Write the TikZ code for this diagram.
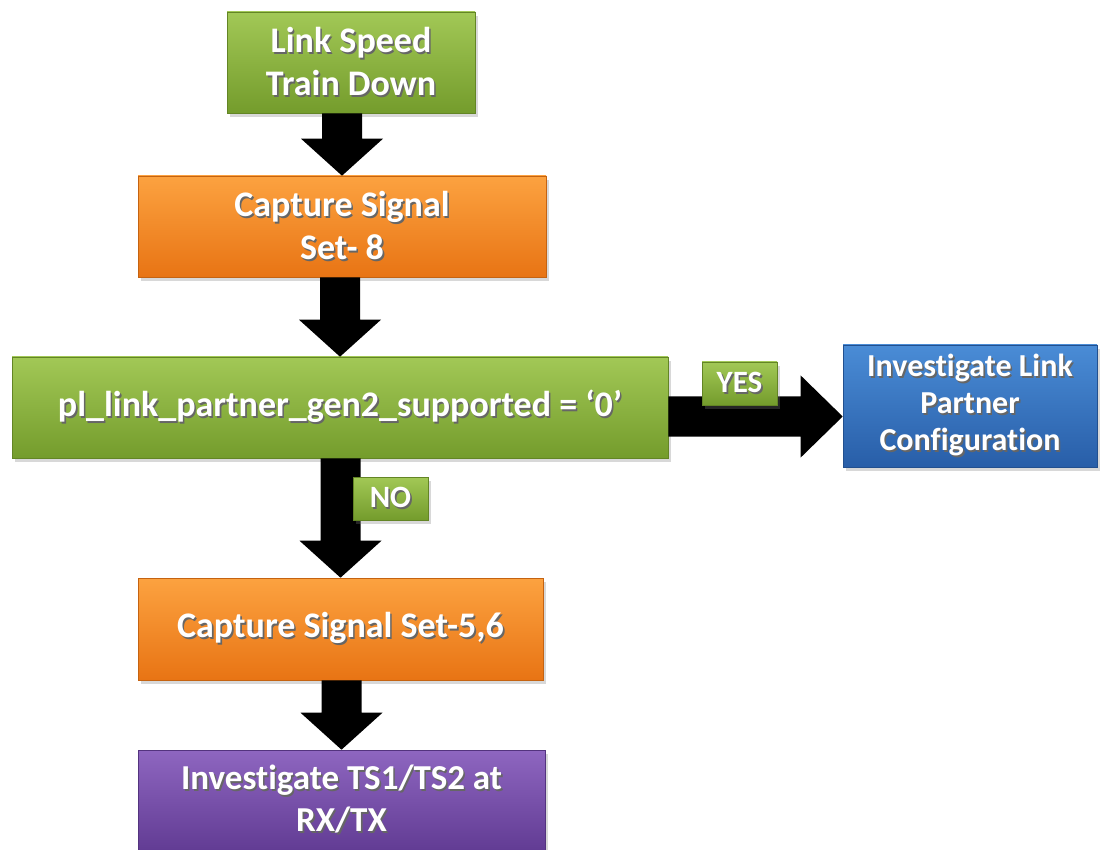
\documentclass[tikz,border=0pt]{standalone}
\usepackage{fontspec}
\setmainfont{Carlito}[Ligatures={TeX,NoCommon}]
\usetikzlibrary{shadows,calc}

% box fills: lighter top, darker bottom
\definecolor{grnT}{RGB}{162,200,86}
\definecolor{grnB}{RGB}{116,156,44}
\definecolor{orgT}{RGB}{252,162,64}
\definecolor{orgB}{RGB}{232,116,20}
\definecolor{bluT}{RGB}{74,140,214}
\definecolor{bluB}{RGB}{40,94,168}
\definecolor{purT}{RGB}{142,102,192}
\definecolor{purB}{RGB}{98,60,148}

% white lettering with a small dark offset copy underneath
\newcommand\shadowtxt[1]{\rlap{\hspace{1.6pt}\raisebox{-1.6pt}{\textcolor{black!60}{#1}}}#1}

\tikzset{
  box/.style={rectangle, inner sep=0pt, align=center, text=white, line width=0.6pt,
    font=\bfseries\fontsize{36}{43}\selectfont,
    drop shadow={opacity=0.3, shadow xshift=3pt, shadow yshift=-4pt}},
  greenbox/.style={box, top color=grnT, bottom color=grnB, draw=grnB!85!black},
  orangebox/.style={box, top color=orgT, bottom color=orgB, draw=orgB!85!black},
  bluebox/.style={box, top color=bluT, bottom color=bluB, draw=bluB!85!black},
  purplebox/.style={box, top color=purT, bottom color=purB, draw=purB!85!black},
  tag/.style={greenbox, minimum width=75pt, minimum height=43pt,
    font=\bfseries\fontsize{31}{36}\selectfont},
  blockarrow/.style={fill=black}
}

% thick downward block arrow from the bottom of #1 to the top of #2
\newcommand\vblock[2]{%
  \fill[blockarrow] let \p1=(#1.south), \p2=(#2.north) in
    (\x2-20pt,\y1) -- (\x2-20pt,\y2+37pt) -- (\x2-41pt,\y2+37pt) -- (\x2,\y2)
    -- (\x2+41pt,\y2+37pt) -- (\x2+20pt,\y2+37pt) -- (\x2+20pt,\y1) -- cycle;}

% thick rightward block arrow from the right side of #1 to the left side of #2, shifted by #3
\newcommand\hblock[3]{%
  \fill[blockarrow] let \p1=($(#1.east)+(0,#3)$), \p2=(#2.west) in
    (\x1,\y1+20pt) -- (\x2-42pt,\y1+20pt) -- (\x2-42pt,\y1+41pt) -- (\x2,\y1)
    -- (\x2-42pt,\y1-41pt) -- (\x2-42pt,\y1-20pt) -- (\x1,\y1-20pt) -- cycle;}

\begin{document}
\begin{tikzpicture}[x=1pt,y=-1pt]
\useasboundingbox[fill=white] (0,0) rectangle (1109,850);

\node[greenbox, minimum width=248pt, minimum height=101pt] (train) at (351,62.5)
  {\shadowtxt{Link Speed}\\\shadowtxt{Train Down}};
\node[orangebox, minimum width=408pt, minimum height=101pt] (cap8) at (342,226.5)
  {\shadowtxt{Capture Signal}\\\shadowtxt{Set- 8}};
\node[greenbox, minimum width=656pt, minimum height=101pt] (cond) at (340,407.5)
  {\shadowtxt{pl\_link\_partner\_gen2\_supported = ‘0’}};
\node[bluebox, minimum width=254pt, minimum height=122pt,
      font=\bfseries\fontsize{32}{37}\selectfont] (partner) at (970,406)
  {\shadowtxt{Investigate Link}\\\shadowtxt{Partner}\\\shadowtxt{Configuration}};
\node[orangebox, minimum width=405pt, minimum height=102pt] (cap56) at (340.5,629)
  {\shadowtxt{Capture Signal Set-5,6}};
\node[purplebox, minimum width=407pt, minimum height=100pt,
      font=\bfseries\fontsize{35}{42}\selectfont] (ts) at (341.5,800)
  {\shadowtxt{Investigate TS1/TS2 at}\\\shadowtxt{RX/TX}};

\vblock{train}{cap8}
\vblock{cap8}{cond}
\vblock{cond}{cap56}
\vblock{cap56}{ts}
\hblock{cond}{partner}{9}

\node[tag] (yes) at (739.5,383.5) {\shadowtxt{YES}};
\node[tag] (no) at (390.5,498.5) {\shadowtxt{NO}};
\end{tikzpicture}
\end{document}
